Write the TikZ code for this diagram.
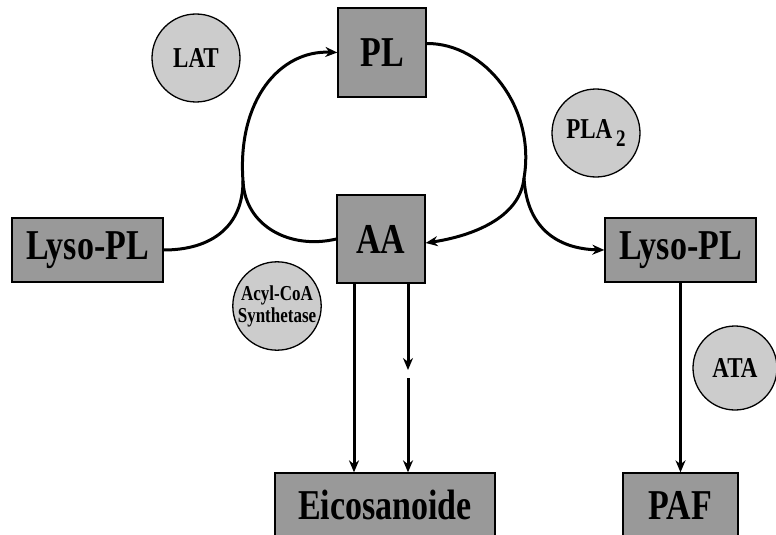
\documentclass[tikz,border=0pt]{standalone}
\usepackage{fontspec}
\usepackage{graphicx}
\setmainfont{Liberation Serif}
\usetikzlibrary{arrows.meta}
\newcommand{\tallt}[1]{\scalebox{1}[1.25]{#1}}
\tikzset{
  box/.style={draw=black, line width=1.3pt, fill=black!40, inner sep=0pt, font=\fontsize{34}{34}\selectfont\bfseries},
  enz/.style={draw=black, line width=1.3pt, fill=black!20, circle, minimum size=88pt, inner sep=0pt, font=\fontsize{23}{23}\selectfont\bfseries},
  conn/.style={line width=3pt, draw=black},
  arr/.style={conn, -{Stealth[length=12pt,width=10pt]}},
}
\begin{document}
\begin{tikzpicture}[x=1pt,y=-1pt]
\useasboundingbox (0,0) rectangle (776,535);
\clip (0,0) rectangle (776,535);
% boxes
\node[box, minimum width=88pt, minimum height=89pt] (PL) at (382,52.5) {\tallt{PL}};
\node[box, minimum width=88pt, minimum height=88pt] (AA) at (381,239) {\tallt{AA}};
\node[box, minimum width=151pt, minimum height=64pt] (LysoL) at (87.5,250) {\tallt{Lyso-PL}};
\node[box, minimum width=151pt, minimum height=64pt] (LysoR) at (680.5,250) {\tallt{Lyso-PL}};
\node[box, minimum width=220pt, minimum height=64pt] (Eico) at (385,505) {\tallt{Eicosanoide}};
\node[box, minimum width=115pt, minimum height=64pt] (PAF) at (680.5,505) {\tallt{PAF}};
% enzymes
\node[enz] (LAT) at (196,58) {\tallt{LAT}};
\node[enz] (PLA) at (596,133) {\tallt{PLA\,\raisebox{-0.3em}{\fontsize{19}{19}\selectfont 2}}};
\node[enz, align=center, font=\fontsize{17}{22}\selectfont\bfseries] (ACS) at (277,306) {\tallt{Acyl-CoA}\\\tallt{Synthetase}};
\node[enz, minimum size=84pt] (ATA) at (735,368) {\tallt{ATA}};
% junctions
\coordinate (cL) at (243,181);
\coordinate (cR) at (524,178);
\coordinate (gapA) at (408,370);
\coordinate (gapB) at (408,378);
% left cycle
\draw[conn] (LysoL.east) .. controls (212,250) and (243,226) .. (cL);
\draw[conn] (AA.west) .. controls (290,250) and (245,226) .. (cL);
\draw[arr] (cL) .. controls (237,100) and (280,50) .. (PL.west);
% right cycle
\draw[conn] ([yshift=9pt]PL.east) .. controls (485,43) and (536,108) .. (cR);
\draw[arr] (cR) .. controls (520,218) and (472,236) .. ([yshift=-4pt]AA.east);
\draw[arr] (cR) .. controls (527,232) and (562,249) .. (LysoR.west);
% AA to eicosanoids
\draw[arr] ([xshift=-27pt]AA.south) -- ([xshift=-27pt]AA.south |- Eico.north);
\draw[arr] ([xshift=27pt]AA.south) -- (gapA);
\draw[arr] (gapB) -- (gapB |- Eico.north);
% Lyso-PL to PAF
\draw[arr] (LysoR.south) -- (PAF.north);
\end{tikzpicture}
\end{document}
